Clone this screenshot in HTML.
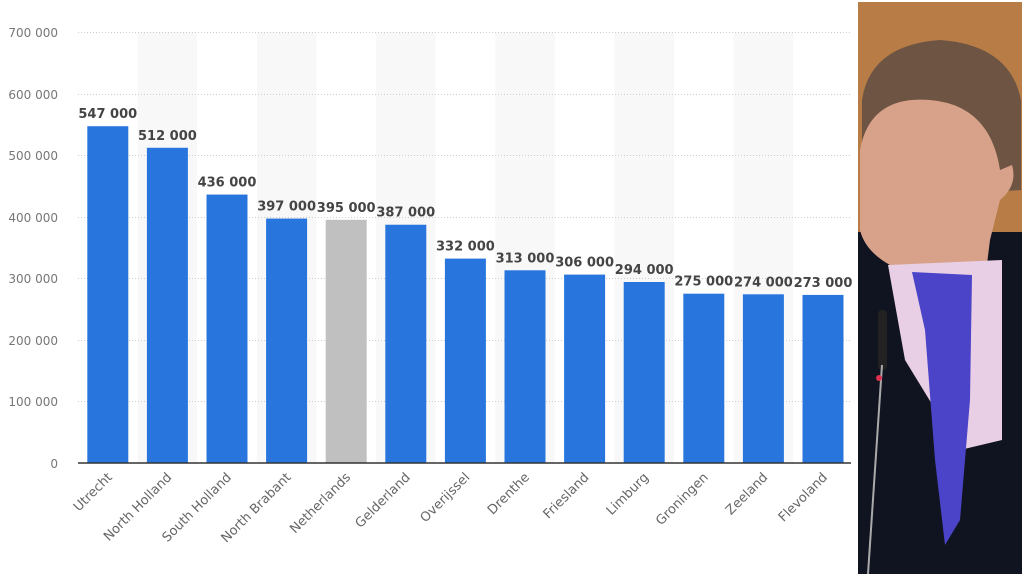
<!DOCTYPE html>
<html><head><style>body{margin:0;background:#fff;}svg{display:block}</style></head><body>
<svg width="1024" height="576" xmlns="http://www.w3.org/2000/svg" font-family="DejaVu Sans, sans-serif">
<rect width="1024" height="576" fill="#fff"/>
<g fill="#f8f8f8">
<rect x="137.6" y="32" width="59.6" height="431"/>
<rect x="256.8" y="32" width="59.6" height="431"/>
<rect x="376" y="32" width="59.6" height="431"/>
<rect x="495.2" y="32" width="59.6" height="431"/>
<rect x="614.4" y="32" width="59.6" height="431"/>
<rect x="733.6" y="32" width="59.6" height="431"/>
</g>
<g stroke="#ccc" stroke-dasharray="1,2" stroke-width="1">
<line x1="78" x2="851" y1="32.5" y2="32.5"/><line x1="78" x2="851" y1="94.5" y2="94.5"/>
<line x1="78" x2="851" y1="155.5" y2="155.5"/><line x1="78" x2="851" y1="217.5" y2="217.5"/>
<line x1="78" x2="851" y1="278.5" y2="278.5"/><line x1="78" x2="851" y1="340.5" y2="340.5"/>
<line x1="78" x2="851" y1="401.5" y2="401.5"/>
</g>
<g fill="#777" font-size="12" text-anchor="end">
<text x="58" y="37">700 000</text><text x="58" y="99">600 000</text><text x="58" y="160">500 000</text>
<text x="58" y="222">400 000</text><text x="58" y="283">300 000</text><text x="58" y="345">200 000</text>
<text x="58" y="406">100 000</text><text x="58" y="468">0</text>
</g>
<g id="bars"></g>
<line x1="78" x2="851" y1="463" y2="463" stroke="#333" stroke-width="1.5"/>
<rect x="858" y="2" width="164" height="572" fill="#0f1420"/>
<rect x="858" y="2" width="164" height="230" fill="#b87d47"/>
<path d="M862,100 Q870,45 940,40 Q1010,45 1021,100 L1021,190 L862,200Z" fill="#6e5442"/>
<path d="M860,150 Q870,95 930,100 Q990,105 1000,170 L1012,165 Q1018,185 1000,200 L990,240 L985,280 Q950,295 900,270 Q866,255 860,230Z" fill="#d8a28a"/>
<path d="M888,265 L1002,260 L1002,440 L960,450 L905,360Z" fill="#e9cfe6"/>
<path d="M912,272 L972,275 L970,400 L960,520 L945,545 L935,460 L925,330Z" fill="#4c44c8"/>
<rect x="878" y="310" width="9" height="60" rx="4" fill="#222"/>
<line x1="882" y1="365" x2="868" y2="574" stroke="#aaa" stroke-width="2"/>
<circle cx="879" cy="378" r="3" fill="#e03050"/>
</svg>
<script>
var d=[["Utrecht",547],["North Holland",512],["South Holland",436],["North Brabant",397],["Netherlands",395],["Gelderland",387],["Overijssel",332],["Drenthe",313],["Friesland",306],["Limburg",294],["Groningen",275],["Zeeland",274],["Flevoland",273]];
var g=document.getElementById("bars"),s="";
d.forEach(function(e,i){var cx=78+59.6*i+29.8,h=e[1]*0.6157,y=463-h;
s+='<rect x="'+(cx-20.5)+'" y="'+y+'" width="41" height="'+h+'" fill="'+(i==4?'#c0c0c0':'#2876dd')+'"/>';
s+='<text x="'+cx+'" y="'+(y-8)+'" text-anchor="middle" font-size="13" font-weight="bold" fill="#444">'+e[1]+' 000</text>';
s+='<text transform="translate('+(cx+5)+',478) rotate(-45)" text-anchor="end" font-size="13" fill="#666">'+e[0]+'</text>';});
g.innerHTML=s;
</script>
</body></html>
